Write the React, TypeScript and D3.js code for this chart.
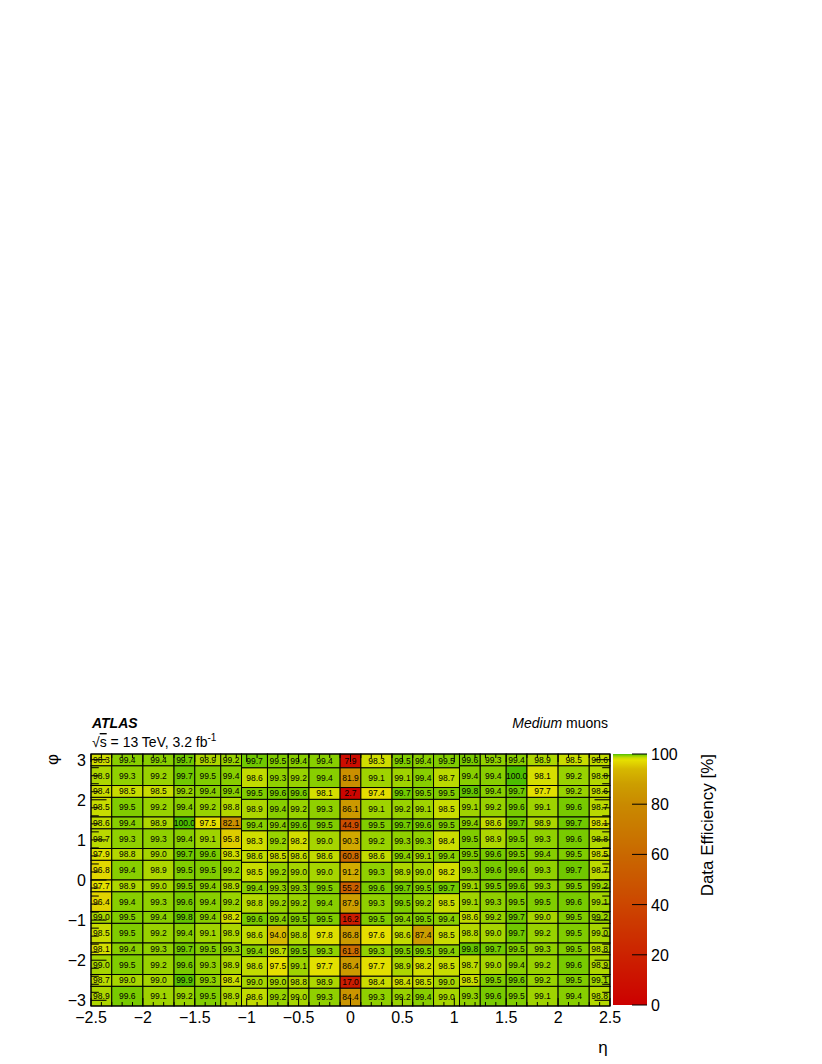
import React from "react";
import * as d3 from "d3";

// eta bin edges (21 bins)
const etaEdges = [
  -2.5, -2.3, -2.0, -1.7, -1.5, -1.25, -1.05, -0.8, -0.6, -0.4, -0.1,
  0.1, 0.4, 0.6, 0.8, 1.05, 1.25, 1.5, 1.7, 2.0, 2.3, 2.5,
];

// phi bin edges (16 sectors), endcap region and barrel region (|eta| < 1.05)
const phiEdgesOuter = [
  -3.1416, -2.652, -2.356, -1.866, -1.571, -1.081, -0.785, -0.295, 0,
  0.49, 0.785, 1.275, 1.571, 2.06, 2.356, 2.846, 3.1416,
];
const phiEdgesInner = [
  -3.1416, -2.70, -2.40, -1.91, -1.62, -1.13, -0.83, -0.34, -0.05,
  0.44, 0.735, 1.225, 1.52, 2.01, 2.305, 2.796, 3.1416,
];

// efficiency in %, rows from top (phi ~ +pi) to bottom (phi ~ -pi)
const efficiency = [
  [98.3, 99.4, 99.4, 99.7, 98.9, 99.2, 99.7, 99.5, 99.4, 99.4, 7.9, 98.3, 99.5, 99.4, 99.5, 99.6, 99.3, 99.4, 98.9, 98.5, 98.6],
  [98.9, 99.3, 99.2, 99.7, 99.5, 99.4, 98.6, 99.3, 99.2, 99.4, 81.9, 99.1, 99.1, 99.4, 98.7, 99.4, 99.4, 100.0, 98.1, 99.2, 98.8],
  [98.4, 98.5, 98.5, 99.2, 99.4, 99.4, 99.5, 99.6, 99.6, 98.1, 2.7, 97.4, 99.7, 99.5, 99.5, 99.8, 99.4, 99.7, 97.7, 99.2, 98.6],
  [98.5, 99.5, 99.2, 99.4, 99.2, 98.8, 98.9, 99.4, 99.2, 99.3, 86.1, 99.1, 99.2, 99.1, 98.5, 99.1, 99.2, 99.6, 99.1, 99.6, 98.7],
  [98.6, 99.4, 98.9, 100.0, 97.5, 82.1, 99.4, 99.4, 99.6, 99.5, 44.9, 99.5, 99.7, 99.6, 99.5, 99.4, 98.6, 99.7, 98.9, 99.7, 98.1],
  [98.7, 99.3, 99.3, 99.4, 99.1, 95.8, 98.3, 99.2, 98.2, 99.0, 90.3, 99.2, 99.3, 99.3, 98.4, 99.5, 98.9, 99.5, 99.3, 99.6, 98.8],
  [97.9, 98.8, 99.0, 99.7, 99.6, 98.3, 98.6, 98.5, 98.6, 98.6, 60.8, 98.6, 99.4, 99.1, 99.4, 99.5, 99.6, 99.5, 99.4, 99.5, 98.5],
  [96.8, 99.4, 98.9, 99.5, 99.5, 99.2, 98.5, 99.2, 99.0, 99.0, 91.2, 99.3, 98.9, 99.0, 98.2, 99.3, 99.6, 99.6, 99.3, 99.7, 98.7],
  [97.7, 98.9, 99.0, 99.5, 99.4, 98.9, 99.4, 99.3, 99.3, 99.5, 55.2, 99.6, 99.7, 99.5, 99.7, 99.1, 99.5, 99.6, 99.3, 99.5, 99.2],
  [96.4, 99.4, 99.3, 99.6, 99.4, 99.2, 98.8, 99.2, 99.2, 99.4, 87.9, 99.3, 99.5, 99.2, 98.5, 99.1, 99.3, 99.5, 99.5, 99.6, 99.1],
  [99.0, 99.5, 99.4, 99.8, 99.4, 98.2, 99.6, 99.4, 99.5, 99.5, 16.2, 99.5, 99.4, 99.5, 99.4, 98.6, 99.2, 99.7, 99.0, 99.5, 99.2],
  [98.5, 99.5, 99.2, 99.4, 99.1, 98.9, 98.6, 94.0, 98.8, 97.8, 86.8, 97.6, 98.6, 87.4, 98.5, 98.8, 99.0, 99.7, 99.2, 99.5, 99.0],
  [98.1, 99.4, 99.3, 99.7, 99.5, 99.3, 99.4, 98.7, 99.5, 99.3, 61.8, 99.3, 99.5, 99.5, 99.4, 99.8, 99.7, 99.5, 99.3, 99.5, 98.8],
  [99.0, 99.5, 99.2, 99.6, 99.3, 98.9, 98.6, 97.5, 99.1, 97.7, 86.4, 97.7, 98.9, 98.2, 98.5, 98.7, 99.0, 99.4, 99.2, 99.6, 98.9],
  [98.7, 99.0, 99.0, 99.9, 99.3, 98.4, 99.0, 99.0, 98.8, 98.9, 17.0, 98.4, 98.4, 98.5, 99.0, 98.5, 99.5, 99.6, 99.2, 99.5, 99.1],
  [98.9, 99.6, 99.1, 99.2, 99.5, 98.9, 98.6, 99.2, 99.0, 99.3, 84.4, 99.3, 99.2, 99.4, 99.0, 99.3, 99.6, 99.5, 99.1, 99.4, 98.8],
];

const xTickLabels = [-2.5, -2, -1.5, -1, -0.5, 0, 0.5, 1, 1.5, 2, 2.5];
const yTickLabels = [-3, -2, -1, 0, 1, 2, 3];
const zTickLabels = [0, 20, 40, 60, 80, 100];

// palette
const colorStops = [0, 20, 40, 60, 80, 88, 94, 97.6, 98.5, 99.2, 99.7, 100];
const colorValues = [
  "#cc0000", "#cc2200", "#cc4600", "#c96800", "#c98a00", "#cc9e00",
  "#d6b800", "#e6e000", "#c8dc00", "#98d200", "#70c800", "#4cbc00",
];

const font = "'Liberation Sans', Arial, Helvetica, sans-serif";
const fmt = (v: number) => (v < 0 ? "\u2212" : "") + Math.abs(v).toString();

export default function App() {
  const W = 822;
  const H = 1064;
  const left = 91, right = 610, top = 754, bottom = 1006;

  const x = d3.scaleLinear().domain([-2.5, 2.5]).range([left, right]);
  const y = d3.scaleLinear().domain([-Math.PI, Math.PI]).range([bottom, top]);
  const color = d3
    .scaleLinear<string>()
    .domain(colorStops)
    .range(colorValues)
    .interpolate(d3.interpolateRgb)
    .clamp(true);

  const zx0 = 613, zx1 = 647;
  const z = d3.scaleLinear().domain([0, 100]).range([1005, 754]);

  const nRows = efficiency.length;
  const cells: any[] = [];
  efficiency.forEach((row, r) => {
    const bin = nRows - 1 - r;
    row.forEach((v, c) => {
      const inner = c >= 6 && c <= 14;
      const edges = inner ? phiEdgesInner : phiEdgesOuter;
      cells.push({
        v,
        x0: x(etaEdges[c]),
        x1: x(etaEdges[c + 1]),
        y0: y(edges[bin + 1]),
        y1: y(edges[bin]),
      });
    });
  });

  const xMinor = d3.range(-25, 26).map((k) => k / 10);
  const yMinor = d3.range(-15, 16).map((k) => k / 5);
  const xMaj = 8, xMin = 4, yMaj = 15.5, yMin = 7.8;

  const gradStops = d3.range(0, 100.01, 0.5);

  return (
    <svg
      width={W}
      height={H}
      style={{ position: "absolute", left: 0, top: 0, background: "#fff" }}
      fontFamily={font}
    >
      <defs>
        <linearGradient id="pal" x1="0" y1="1" x2="0" y2="0">
          {gradStops.map((s) => (
            <stop key={s} offset={`${s}%`} stopColor={color(s)} />
          ))}
        </linearGradient>
      </defs>

      {/* cells */}
      <g>
        {cells.map((d, i) => (
          <rect
            key={i}
            x={d.x0}
            y={d.y0}
            width={d.x1 - d.x0}
            height={d.y1 - d.y0}
            fill={color(d.v)}
            stroke="#000"
            strokeWidth={1}
          />
        ))}
      </g>
      <g fontSize={8.5} textAnchor="middle" fill="#000">
        {cells.map((d, i) => (
          <text key={i} x={(d.x0 + d.x1) / 2} y={(d.y0 + d.y1) / 2 + 3}>
            {d.v.toFixed(1)}
          </text>
        ))}
      </g>

      {/* frame */}
      <rect x={left} y={top} width={right - left} height={bottom - top} fill="none" stroke="#000" strokeWidth={1} />

      {/* ticks */}
      <g stroke="#000" strokeWidth={1}>
        {xMinor.map((t) => {
          const major = Math.abs(t * 2 - Math.round(t * 2)) < 1e-6;
          const len = major ? xMaj : xMin;
          return (
            <g key={t}>
              <line x1={x(t)} x2={x(t)} y1={bottom} y2={bottom - len} />
              <line x1={x(t)} x2={x(t)} y1={top} y2={top + len} />
            </g>
          );
        })}
        {yMinor.map((t) => {
          const major = Math.abs(t - Math.round(t)) < 1e-6;
          const len = major ? yMaj : yMin;
          return (
            <g key={t}>
              <line x1={left} x2={left + len} y1={y(t)} y2={y(t)} />
              <line x1={right} x2={right - len} y1={y(t)} y2={y(t)} />
            </g>
          );
        })}
      </g>

      {/* tick labels */}
      <g fontSize={16} fill="#000" textAnchor="middle">
        {xTickLabels.map((t) => (
          <text key={t} x={x(t)} y={1023}>
            {fmt(t)}
          </text>
        ))}
      </g>
      <g fontSize={16} fill="#000" textAnchor="end">
        {yTickLabels.map((t) => (
          <text key={t} x={86} y={y(t) + 6}>
            {fmt(t)}
          </text>
        ))}
      </g>

      {/* axis titles */}
      <text x={603} y={1053} fontSize={17} textAnchor="middle">
        η
      </text>
      <text
        transform={`translate(58,${top}) rotate(-90)`}
        fontSize={17}
        textAnchor="end"
      >
        φ
      </text>

      {/* colour bar */}
      <rect x={zx0} y={z(100)} width={zx1 - zx0} height={z(0) - z(100)} fill="url(#pal)" />
      <g stroke="#000" strokeWidth={1}>
        {zTickLabels.map((t) => (
          <line key={t} x1={zx1 - 15} x2={zx1} y1={z(t)} y2={z(t)} />
        ))}
      </g>
      <g fontSize={16} fill="#000">
        {zTickLabels.map((t) => (
          <text key={t} x={651} y={z(t) + 6}>
            {t}
          </text>
        ))}
      </g>
      <text
        transform={`translate(713,${top}) rotate(-90)`}
        fontSize={17}
        textAnchor="end"
      >
        Data Efficiency [%]
      </text>

      {/* labels */}
      <text x={92} y={728} fontSize={14} fontWeight="bold" fontStyle="italic">
        ATLAS
      </text>
      <text x={92} y={747} fontSize={14}>
        √<tspan style={{ textDecoration: "overline" }}>s</tspan> = 13 TeV, 3.2 fb
        <tspan dy={-6} fontSize={10}>-1</tspan>
      </text>
      <text x={608} y={728} fontSize={14} textAnchor="end">
        <tspan fontStyle="italic">Medium</tspan> muons
      </text>
    </svg>
  );
}
